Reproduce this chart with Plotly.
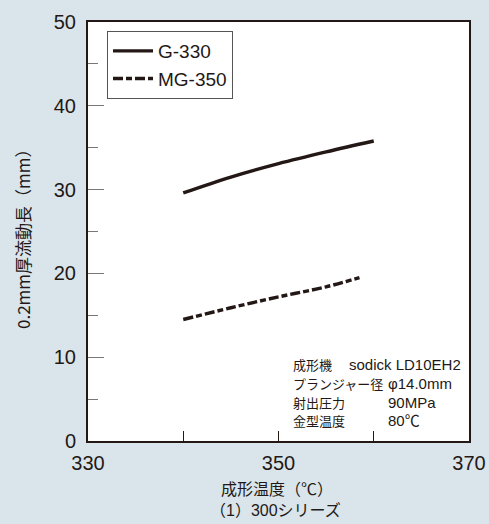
import plotly.graph_objects as go

# Data
temp_g330 = [340, 345, 350, 355, 360]
flow_g330 = [29.6, 31.5, 33.1, 34.5, 35.8]
temp_mg350 = [340, 345, 350, 355, 358.5]
flow_mg350 = [14.5, 15.9, 17.2, 18.4, 19.5]

x_tickvals = [330, 340, 350, 360, 370]
x_ticktext = ["330", "", "350", "", "370"]
y_tickvals = [0, 10, 20, 30, 40, 50]

cond_labels = ["成形機", "プランジャー径", "射出圧力", "金型温度"]
cond_values = ["sodick LD10EH2", "φ14.0mm", "90MPa", "80℃"]

INK = "#231815"
BG = "#d9e5eb"
FONT = "Liberation Sans, Arial, Noto Sans CJK JP"
JFONT = "Noto Sans CJK JP, Liberation Sans"

L, R, T, B = 88, 469, 22, 441
PW, PH = R - L, B - T

fig = go.Figure()
fig.add_trace(go.Scatter(x=temp_g330, y=flow_g330, mode="lines", name="G-330",
                         line=dict(color=INK, width=3.4, shape="spline")))
fig.add_trace(go.Scatter(x=temp_mg350, y=flow_mg350, mode="lines", name="MG-350",
                         line=dict(color=INK, width=3.4, dash="10px,3px,6px,3px", shape="spline")))

fig.update_layout(
    width=489, height=524,
    margin=dict(l=L, r=489 - R, t=T, b=524 - B),
    paper_bgcolor=BG, plot_bgcolor="white",
    font=dict(family=FONT, color=INK, size=19),
    showlegend=True,
    legend=dict(x=(107 - L) / PW, y=(B - 31) / PH, xanchor="left", yanchor="top",
                bgcolor="white", bordercolor="#555", borderwidth=1,
                font=dict(size=19, family=FONT, color=INK),
                itemwidth=40, tracegroupgap=0),
    xaxis=dict(range=[330, 370], tickvals=x_tickvals, ticktext=x_ticktext,
               ticks="inside", ticklen=10, tickwidth=1.2, tickcolor=INK,
               showline=True, linecolor=INK, linewidth=2, mirror=True,
               showgrid=False, zeroline=False, ticklabelstandoff=3, automargin=False,
               tickfont=dict(size=20, family=FONT, color=INK)),
    yaxis=dict(range=[0, 50], tickvals=y_tickvals,
               ticks="inside", ticklen=16, tickwidth=1.2, tickcolor="#777",
               minor=dict(ticks="inside", dtick=5, ticklen=10, tickwidth=1.2, tickcolor="#777"),
               showline=True, linecolor=INK, linewidth=2, mirror=True,
               showgrid=False, zeroline=False, ticklabelstandoff=6, automargin=False,
               tickfont=dict(size=20, family=FONT, color=INK)),
)

# Axis titles
fig.add_annotation(xref="paper", yref="paper", x=(22 - L) / PW, y=(B - 235) / PH,
                   text="0.2mm厚流動長（mm）",
                   textangle=-90, showarrow=False, font=dict(size=17, family=JFONT, color=INK),
                   xanchor="center", yanchor="middle")
fig.add_annotation(xref="paper", yref="paper", x=(277 - L) / PW, y=(B - 489) / PH,
                   text="成形温度（℃）",
                   showarrow=False, font=dict(size=16, family=FONT, color=INK),
                   xanchor="center", yanchor="middle", borderpad=0)
fig.add_annotation(xref="paper", yref="paper", x=(275 - L) / PW, y=(B - 511) / PH,
                   text="（1）300シリーズ",
                   showarrow=False, font=dict(size=16, family=FONT, color=INK),
                   xanchor="center", yanchor="middle", borderpad=0)

# Conditions block
line_y = [364, 383, 402, 420]
for i, (lab, val) in enumerate(zip(cond_labels, cond_values)):
    yp = (B - line_y[i]) / PH
    fig.add_annotation(xref="paper", yref="paper", x=(291 - L) / PW, y=yp, text=lab,
                       showarrow=False, xanchor="left", yanchor="middle",
                       font=dict(size=13, family=JFONT, color=INK))
    vx = 347 if i == 0 else 386
    fig.add_annotation(xref="paper", yref="paper", x=(vx - L) / PW, y=yp, text=val,
                       showarrow=False, xanchor="left", yanchor="middle",
                       font=dict(size=15, family=FONT, color=INK))

fig.write_html("out.html")
